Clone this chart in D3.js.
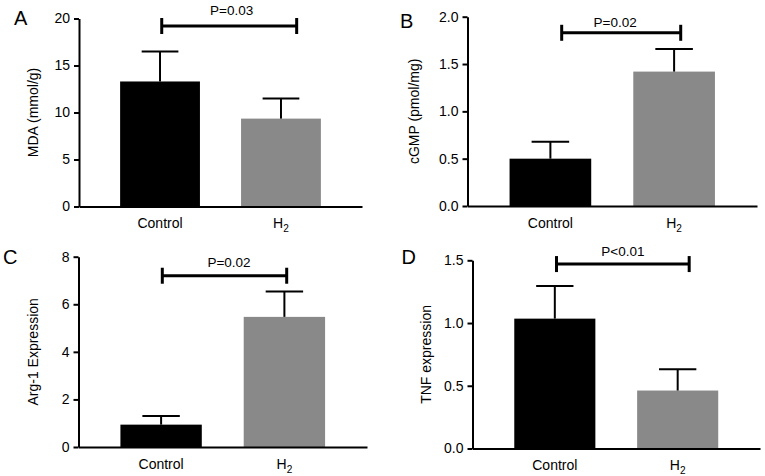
<!DOCTYPE html>
<html>
<head>
<meta charset="utf-8">
<script src="https://cdn.jsdelivr.net/npm/d3@7"></script>
<style>
  body { margin: 0; background: #fff; }
  svg  { display: block; font-family: "Liberation Sans", Arial, Helvetica, sans-serif; }
</style>
</head>
<body>
<svg id="fig" width="765" height="476"></svg>
<script>
'use strict';

// ── Data ────────────────────────────────────────────────────────
const GROUPS     = ['Control', 'H2'];

const MDA_MEAN   = [13.3, 9.35];
const MDA_SD     = [3.2, 2.15];
const CGMP_MEAN  = [0.50, 1.42];
const CGMP_SD    = [0.18, 0.24];
const ARG1_MEAN  = [0.94, 5.47];
const ARG1_SD    = [0.36, 1.07];
const TNF_MEAN   = [1.035, 0.462];
const TNF_SD     = [0.26, 0.17];

const PANEL_TAGS = ['A', 'B', 'C', 'D'];
const Y_TITLES   = ['MDA (mmol/g)', 'cGMP (pmol/mg)', 'Arg-1 Expression', 'TNF expression'];
const Y_MAX      = [20, 2, 8, 1.5];
const Y_TICKS    = [[0, 5, 10, 15, 20], [0, 0.5, 1, 1.5, 2], [0, 2, 4, 6, 8], [0, 0.5, 1, 1.5]];
const Y_FORMATS  = ['d', '.1f', 'd', '.1f'];
const P_LABELS   = ['P=0.03', 'P=0.02', 'P=0.02', 'P<0.01'];
const BRACKET_AT = [19.2, 1.83, 7.2, 1.47];

const MEANS = [MDA_MEAN, CGMP_MEAN, ARG1_MEAN, TNF_MEAN];
const SDS   = [MDA_SD, CGMP_SD, ARG1_SD, TNF_SD];

// ── Layout ──────────────────────────────────────────────────────
const BAR_COLORS = ['#000000', '#898989'];
const FONT       = 14;

// axis box per panel, letter position, title offset, bracket tweaks
const LAYOUT = [
  { left: 79,    right: 362, top: 18.5,  bottom: 206.5, tag: [14, 25],    title: -41, br: [1.7, 15.7],  pGap: 11.5, pDx: 2.5 },
  { left: 467.5, right: 757, top: 16.7,  bottom: 206,   tag: [400, 28],   title: -49, br: [11.3, 6.6],  pGap: 5.5,  pDx: -6 },
  { left: 78.5,  right: 367, top: 256.7, bottom: 447,   tag: [3, 264],    title: -41, br: [1.2, 2.3],   pGap: 8.3,  pDx: 4.5 },
  { left: 472.5, right: 760, top: 260.3, bottom: 448.5, tag: [401.5, 264], title: -41.5, br: [1.7, 11.5], pGap: 8.3, pDx: 0 },
];

const svg = d3.select('#fig');

PANEL_TAGS.forEach((tag, i) => drawPanel(i));

function drawPanel(i) {
  const L = LAYOUT[i];
  const g = svg.append('g').attr('class', 'panel');

  const x = d3.scaleBand()
    .domain(GROUPS)
    .range([L.left, L.right])
    .paddingInner(0.34)
    .paddingOuter(0.34);

  const y = d3.scaleLinear()
    .domain([0, Y_MAX[i]])
    .range([L.bottom, L.top]);

  const rows = GROUPS.map((grp, k) => ({ grp, mean: MEANS[i][k], sd: SDS[i][k], k }));

  // ── Bars ──
  g.selectAll('rect.bar')
    .data(rows)
    .join('rect')
      .attr('class', 'bar')
      .attr('x', d => x(d.grp))
      .attr('y', d => y(d.mean))
      .attr('width', x.bandwidth())
      .attr('height', d => y(0) - y(d.mean))
      .attr('fill', d => BAR_COLORS[d.k]);

  // ── Error bars (upper only) ──
  const capHalf = x.bandwidth() * 0.23;
  const err = g.selectAll('g.err')
    .data(rows)
    .join('g')
      .attr('class', 'err')
      .attr('stroke', '#000')
      .attr('stroke-width', 2);

  err.append('line')
    .attr('x1', d => x(d.grp) + x.bandwidth() / 2)
    .attr('x2', d => x(d.grp) + x.bandwidth() / 2)
    .attr('y1', d => y(d.mean))
    .attr('y2', d => y(d.mean + d.sd));

  err.append('line')
    .attr('x1', d => x(d.grp) + x.bandwidth() / 2 - capHalf)
    .attr('x2', d => x(d.grp) + x.bandwidth() / 2 + capHalf)
    .attr('y1', d => y(d.mean + d.sd))
    .attr('y2', d => y(d.mean + d.sd));

  // ── Y axis ──
  const yAxis = g.append('g')
    .attr('transform', `translate(${L.left},0)`)
    .call(d3.axisLeft(y)
      .tickValues(Y_TICKS[i])
      .tickFormat(d3.format(Y_FORMATS[i]))
      .tickSize(5)
      .tickSizeOuter(0)
      .tickPadding(4));
  styleAxis(yAxis);

  // ── X axis ──
  const xAxis = g.append('g')
    .attr('transform', `translate(0,${L.bottom})`)
    .call(d3.axisBottom(x).tickSize(0).tickSizeOuter(0).tickPadding(0));
  styleAxis(xAxis);

  xAxis.selectAll('.tick text')
    .attr('y', 21.5)
    .attr('dy', null)
    .text(null)
    .each(function(d) {
      const t = d3.select(this);
      if (d === 'H2') {
        t.append('tspan').text('H');
        t.append('tspan')
          .attr('font-size', FONT * 0.72)
          .attr('dy', 4)
          .text('2');
      } else {
        t.text(d);
      }
    });

  // ── Y title ──
  g.append('text')
    .attr('transform', `translate(${L.left + L.title},${(L.top + L.bottom) / 2}) rotate(-90)`)
    .attr('text-anchor', 'middle')
    .attr('font-size', FONT)
    .attr('fill', '#000')
    .text(Y_TITLES[i]);

  // ── Panel tag ──
  g.append('text')
    .attr('x', L.tag[0])
    .attr('y', L.tag[1])
    .attr('font-size', 20)
    .attr('fill', '#000')
    .text(PANEL_TAGS[i]);

  // ── Significance bracket ──
  const bx1 = x(GROUPS[0]) + x.bandwidth() / 2 + L.br[0];
  const bx2 = x(GROUPS[1]) + x.bandwidth() / 2 + L.br[1];
  const by  = y(BRACKET_AT[i]);

  const br = g.append('g')
    .attr('stroke', '#000')
    .attr('stroke-width', 3);
  br.append('line').attr('x1', bx1).attr('x2', bx2).attr('y1', by).attr('y2', by);
  br.append('line').attr('x1', bx1).attr('x2', bx1).attr('y1', by - 8).attr('y2', by + 8);
  br.append('line').attr('x1', bx2).attr('x2', bx2).attr('y1', by - 8).attr('y2', by + 8);

  g.append('text')
    .attr('x', (bx1 + bx2) / 2 + L.pDx)
    .attr('y', by - L.pGap)
    .attr('text-anchor', 'middle')
    .attr('font-size', 13.5)
    .attr('fill', '#000')
    .text(P_LABELS[i]);
}

function styleAxis(sel) {
  sel.select('.domain').attr('stroke', '#000').attr('stroke-width', 2);
  sel.selectAll('.tick line').attr('stroke', '#000').attr('stroke-width', 2);
  sel.selectAll('.tick text')
    .attr('fill', '#000')
    .attr('font-size', FONT)
    .attr('font-family', '"Liberation Sans", Arial, Helvetica, sans-serif');
}
</script>
</body>
</html>
